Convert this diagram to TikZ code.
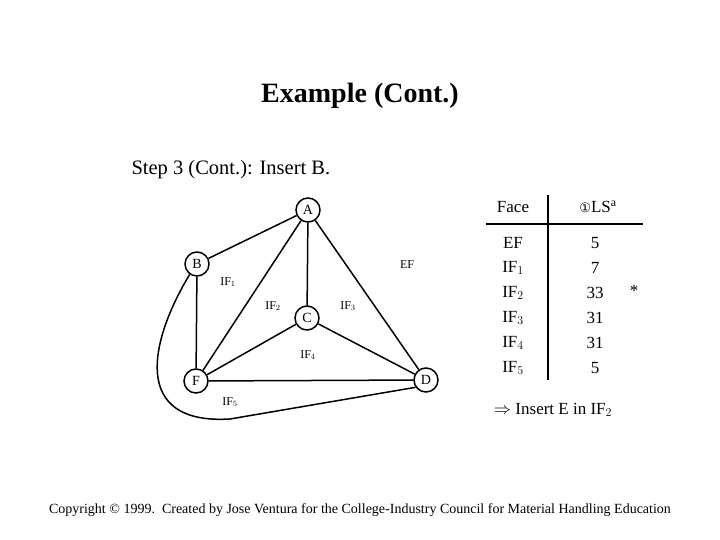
\documentclass[tikz,border=0pt]{standalone}
\usepackage{fontspec}
\setmainfont{Liberation Serif}
\newfontfamily\symfont{DejaVu Sans}
\usetikzlibrary{calc}
\tikzset{vertex/.style={circle,draw,line width=1.5pt,minimum size=24pt,inner sep=0pt,font=\fontsize{14}{16}\selectfont},
 edge/.style={line width=1.5pt},
 facelabel/.style={font=\fontsize{12}{14}\selectfont},
 tabtext/.style={font=\fontsize{17}{19}\selectfont}}

\begin{document}
\begin{tikzpicture}[x=1pt,y=-1pt]
\useasboundingbox (0,0) rectangle (720,540);
\node[font=\bfseries\fontsize{28}{32}\selectfont] (title) at (360,96) {Example (Cont.)};
\node[anchor=west,font=\fontsize{20.5}{23}\selectfont] (step) at (128,170) {Step 3 (Cont.): Insert B.};
% the planar graph
\node[vertex] (A) at (308,210) {A};
\node[vertex] (B) at (197,264) {B};
\node[vertex] (C) at (307,318) {C};
\node[vertex] (F) at (196,381) {F};
\node[vertex] (D) at (426,380) {D};
\foreach \a/\b in {A/B,A/C,A/F,A/D,B/F,C/F,C/D,F/D}
 \draw[edge] (\a)--(\b);
\draw[edge] (B.235) .. controls (150,340) and (130,425) .. (230,419) -- (D.215);
\node[facelabel] (ef) at (407,265) {EF};
\node[facelabel] (if1) at (228,282) {IF$_1$};
\node[facelabel] (if2) at (273,306) {IF$_2$};
\node[facelabel] (if3) at (348,306) {IF$_3$};
\node[facelabel] (if4) at (308,355) {IF$_4$};
\node[facelabel] (if5) at (230,402) {IF$_5$};
% table of faces
\coordinate (vtop) at (548,195);
\coordinate (vbot) at (548,380);
\coordinate (hl) at (486,224);
\coordinate (hr) at (643,224);
\draw[line width=1.5pt] (vtop)--(vbot);
\draw[line width=1.5pt] (hl)--(hr);
\node[tabtext] (hface) at (513,207) {Face};
\node[tabtext] (hsum) at (598,207) {{\symfont\fontsize{13}{15}\selectfont ①}LS\textsuperscript{a}};
\foreach \f/\v/\y in {EF/5/243,IF$_1$/7/268,IF$_2$/33/293,IF$_3$/31/318,IF$_4$/31/343,IF$_5$/5/368} {
 \node[tabtext] at (513,\y) {\f};
 \node[tabtext] at (595,\y) {\v};
}
\node[tabtext] (star) at (634,291) {*};
\node[tabtext] (insert) at (553,410) {$\Rightarrow$ Insert E in IF$_2$};
\node[font=\fontsize{14}{16}\selectfont] (copy) at (360,510) {Copyright \textcopyright{} 1999.\ \ Created by Jose Ventura for the College-Industry Council for Material Handling Education};
\end{tikzpicture}
\end{document}
